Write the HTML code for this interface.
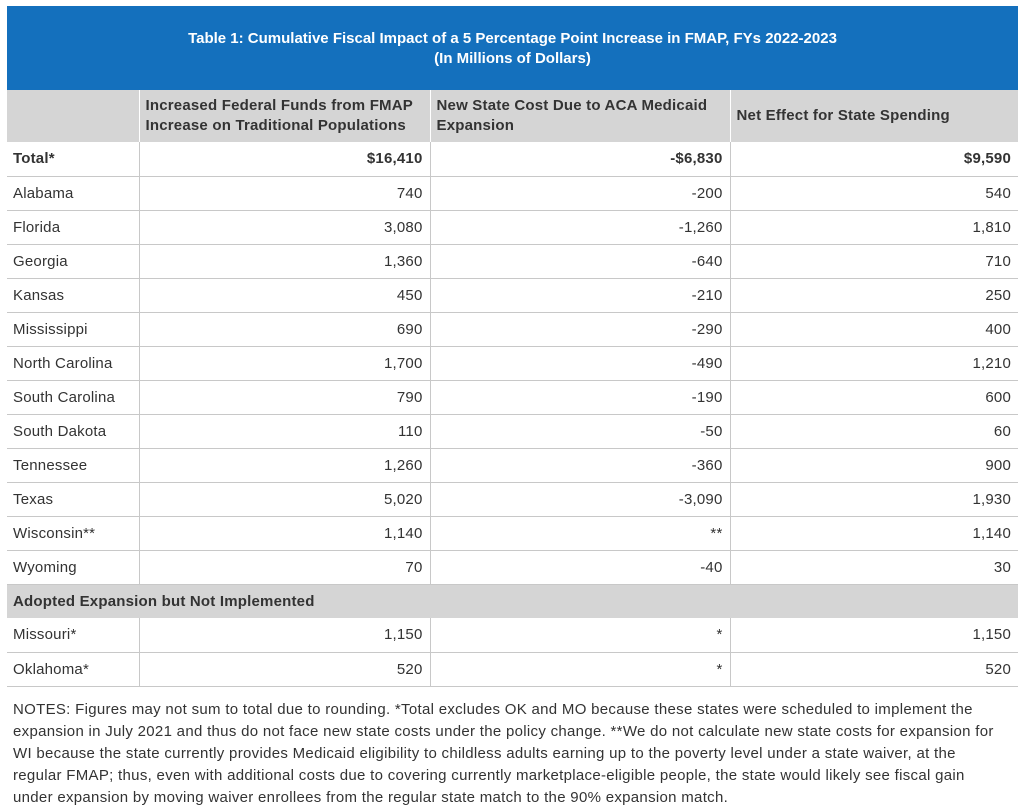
<!DOCTYPE html>
<html><head><meta charset="utf-8"><style>
body{margin:0;background:#fff;width:1032px;height:808px;overflow:hidden;font-family:"Liberation Sans",sans-serif;color:#333}
.hdr{position:absolute;left:7px;top:6px;width:1011px;height:84px;background:#1470bd;color:#fff;font-weight:bold;font-size:15px;text-align:center;line-height:20px;box-sizing:border-box;padding-top:23px}
table{position:absolute;left:7px;top:90px;width:1011px;border-collapse:collapse;font-size:15px;letter-spacing:0.2px}
td{height:34px;border-bottom:1px solid #c8c8c8;padding:0 7px 0 6px;text-align:right;box-sizing:border-box}
td:first-child{text-align:left}
td+td{border-left:1px solid #c8c8c8}
tr.h td{background:#d5d5d5;height:52px;font-weight:bold;text-align:left;line-height:20px;border-left-color:#fff;border-bottom:none}
tr.h td:first-child{width:132px}
tr.b td{font-weight:bold}
tr.s td{background:#d5d5d5;font-weight:bold;text-align:left;border-bottom:none}
.n{position:absolute;left:13px;top:699px;width:1015px;font-size:15px;line-height:22px;color:#333;white-space:nowrap;letter-spacing:0.3px}
</style></head><body>
<div class="hdr">Table 1: Cumulative Fiscal Impact of a 5 Percentage Point Increase in FMAP, FYs 2022-2023<br>(In Millions of Dollars)</div>
<table>
<tr class="h"><td></td><td style="width:291px">Increased Federal Funds from FMAP Increase on Traditional Populations</td><td style="width:300px">New State Cost Due to ACA Medicaid Expansion</td><td>Net Effect for State Spending</td></tr>
<tr class="b"><td>Total*</td><td>$16,410</td><td>-$6,830</td><td>$9,590</td></tr>
<tr><td>Alabama</td><td>740</td><td>-200</td><td>540</td></tr>
<tr><td>Florida</td><td>3,080</td><td>-1,260</td><td>1,810</td></tr>
<tr><td>Georgia</td><td>1,360</td><td>-640</td><td>710</td></tr>
<tr><td>Kansas</td><td>450</td><td>-210</td><td>250</td></tr>
<tr><td>Mississippi</td><td>690</td><td>-290</td><td>400</td></tr>
<tr><td>North Carolina</td><td>1,700</td><td>-490</td><td>1,210</td></tr>
<tr><td>South Carolina</td><td>790</td><td>-190</td><td>600</td></tr>
<tr><td>South Dakota</td><td>110</td><td>-50</td><td>60</td></tr>
<tr><td>Tennessee</td><td>1,260</td><td>-360</td><td>900</td></tr>
<tr><td>Texas</td><td>5,020</td><td>-3,090</td><td>1,930</td></tr>
<tr><td>Wisconsin**</td><td>1,140</td><td>**</td><td>1,140</td></tr>
<tr><td>Wyoming</td><td>70</td><td>-40</td><td>30</td></tr>
<tr class="s"><td colspan="4">Adopted Expansion but Not Implemented</td></tr>
<tr><td>Missouri*</td><td>1,150</td><td>*</td><td>1,150</td></tr>
<tr><td>Oklahoma*</td><td>520</td><td>*</td><td>520</td></tr>
</table>
<div class="n">NOTES: Figures may not sum to total due to rounding. *Total excludes OK and MO because these states were scheduled to implement the<br>expansion in July 2021 and thus do not face new state costs under the policy change. **We do not calculate new state costs for expansion for<br>WI because the state currently provides Medicaid eligibility to childless adults earning up to the poverty level under a state waiver, at the<br>regular FMAP; thus, even with additional costs due to covering currently marketplace-eligible people, the state would likely see fiscal gain<br>under expansion by moving waiver enrollees from the regular state match to the 90% expansion match.</div>
</body></html>
